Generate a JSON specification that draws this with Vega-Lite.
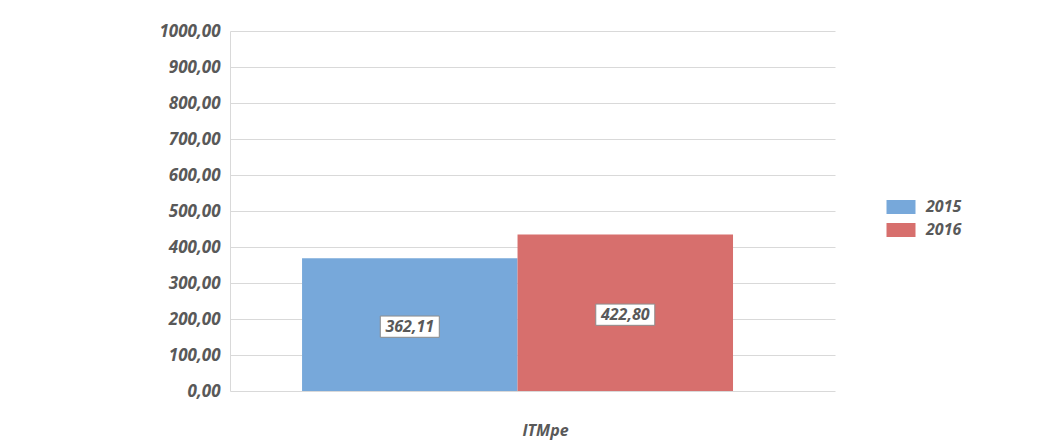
{
  "$schema": "https://vega.github.io/schema/vega-lite/v6.json",
  "width": 605,
  "height": 360,
  "autosize": {"type": "none"},
  "padding": {"left": 230, "top": 31, "right": 224, "bottom": 56},
  "background": "white",
  "config": {
    "locale": {"number": {"decimal": ",", "thousands": ".", "grouping": [3], "currency": ["", ""]}},
    "view": {"stroke": null},
    "font": "Open Sans",
    "axisY": {
      "title": null,
      "values": [0, 100, 200, 300, 400, 500, 600, 700, 800, 900, 1000],
      "format": ".2f",
      "ticks": false,
      "labelOverlap": false,
      "labelPadding": 10,
      "domainColor": "#d9d9d9",
      "gridColor": "#d9d9d9",
      "labelFont": "Open Sans",
      "labelFontSize": 17,
      "labelFontWeight": "bold",
      "labelFontStyle": "italic",
      "labelColor": "#595959"
    }
  },
  "data": {
    "values": [
      {"category": "ITMpe", "year": "2015", "value": 368.5, "label": "362,11"},
      {"category": "ITMpe", "year": "2016", "value": 435.0, "label": "422,80"}
    ]
  },
  "encoding": {
    "x": {
      "field": "category",
      "type": "nominal",
      "scale": {"paddingInner": 0, "paddingOuter": 0.2019, "align": 0.414},
      "axis": {
        "title": null,
        "ticks": false,
        "domain": false,
        "grid": false,
        "labelAngle": 0,
        "labelOffset": 28,
        "labelPadding": 31,
        "labelFont": "Open Sans",
        "labelFontSize": 16,
        "labelFontWeight": "bold",
        "labelFontStyle": "italic",
        "labelColor": "#595959"
      }
    },
    "xOffset": {"field": "year", "type": "nominal", "scale": {"paddingInner": 0, "paddingOuter": 0}}
  },
  "layer": [
    {
      "mark": {"type": "bar"},
      "encoding": {
        "y": {
          "field": "value",
          "type": "quantitative",
          "scale": {"domain": [0, 1000], "nice": false},
          "axis": {"title": null, "values": [0, 100, 200, 300, 400, 500, 600, 700, 800, 900, 1000], "format": ".2f", "labelOverlap": false}
        },
        "color": {
          "field": "year",
          "type": "nominal",
          "scale": {"domain": ["2015", "2016"], "range": ["#77a8da", "#d76f6d"]},
          "legend": {
            "title": null,
            "orient": "none",
            "legendX": 661,
            "legendY": 166,
            "symbolType": "M-1.45,-0.7H1.45V0.7H-1.45Z",
            "symbolSize": 400,
            "symbolStrokeWidth": 0,
            "labelOffset": 15,
            "rowPadding": 5,
            "labelFont": "Open Sans",
            "labelFontSize": 16,
            "labelFontWeight": "bold",
            "labelFontStyle": "italic",
            "labelColor": "#595959"
          }
        }
      }
    },
    {
      "transform": [{"calculate": "datum.value / 2", "as": "mid"}],
      "mark": {"type": "point", "shape": "M-1,-0.36H1V0.36H-1Z", "filled": true, "fill": "white", "stroke": "#8c8c8c", "strokeWidth": 1, "opacity": 1, "size": 3481, "yOffset": 2},
      "encoding": {
        "y": {"field": "mid", "type": "quantitative", "axis": {"title": null, "values": [0, 100, 200, 300, 400, 500, 600, 700, 800, 900, 1000], "format": ".2f", "labelOverlap": false}}
      }
    },
    {
      "transform": [{"calculate": "datum.value / 2", "as": "mid"}],
      "mark": {"type": "text", "font": "Open Sans", "fontSize": 16, "fontWeight": "bold", "fontStyle": "italic", "color": "#595959", "yOffset": 2, "baseline": "middle"},
      "encoding": {
        "y": {"field": "mid", "type": "quantitative", "axis": {"title": null, "values": [0, 100, 200, 300, 400, 500, 600, 700, 800, 900, 1000], "format": ".2f", "labelOverlap": false}},
        "text": {"field": "label"}
      }
    }
  ]
}
